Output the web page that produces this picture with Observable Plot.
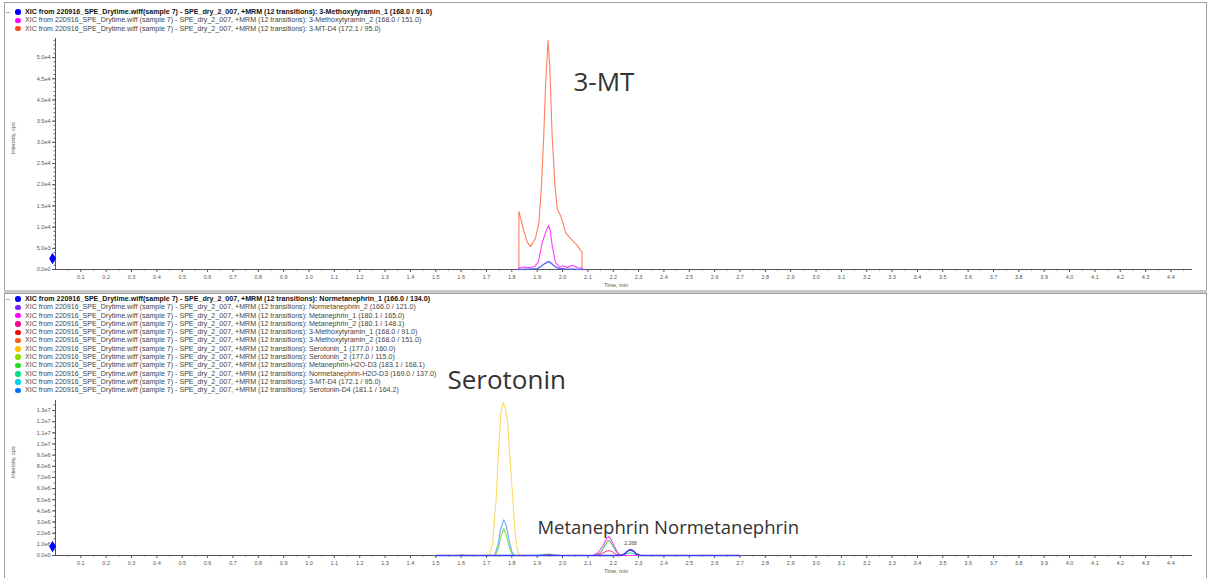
<!DOCTYPE html>
<html><head><meta charset="utf-8">
<script src="https://cdn.jsdelivr.net/npm/d3@7"></script>
<script src="https://cdn.jsdelivr.net/npm/@observablehq/plot@0.6"></script>
<style>
body{margin:0;width:1211px;height:578px;overflow:hidden;background:#fff;font-family:"Liberation Sans",Arial,sans-serif;}
#wrap{position:relative;width:1211px;height:578px;}
.panel{position:absolute;left:4px;width:1203px;border:1px solid #a0a0a0;box-sizing:border-box;}
.sep{position:absolute;left:4px;width:1203px;height:3px;background:#c8c8c8;}
.legend{position:absolute;left:0;font-size:7.1px;line-height:8.3px;color:#444;white-space:nowrap;z-index:2}
.legend .row{position:relative;padding-left:25px;height:8.3px}
.legend .dot{position:absolute;left:15px;top:1.4px;width:5.5px;height:5.5px;border-radius:50%}
.legend .row.bold{font-weight:bold;color:#111}
.legend .minus{position:absolute;left:6px;top:0px;color:#666}
.chart{position:absolute;left:0;z-index:1}
</style></head>
<body><div id="wrap">
<div class="panel" style="top:2px;height:289px"></div>
<div class="sep" style="top:290px"></div>
<div class="panel" style="top:293px;height:286px"></div>
<div class="legend" id="leg1" style="top:8px"></div>
<div class="legend" id="leg2" style="top:295px"></div>
<div class="chart" id="c1" style="top:30px"></div>
<div class="chart" id="c2" style="top:365px"></div>
</div>
<script>
// ---------- DATA ----------
const legendPrefixBold = "XIC from 220916_SPE_Drytime.wiff(sample 7) - SPE_dry_2_007, +MRM (12 transitions): ";
const legendPrefix = "XIC from 220916_SPE_Drytime.wiff (sample 7) - SPE_dry_2_007, +MRM (12 transitions): ";

const topNames = ["3-Methoxytyramin_1 (168.0 / 91.0)", "3-Methoxytyramin_2 (168.0 / 151.0)", "3-MT-D4 (172.1 / 95.0)"];
const bottomNames = ["Normetanephrin_1 (166.0 / 134.0)", "Normetanephrin_2 (166.0 / 121.0)", "Metanephrin_1 (180.1 / 165.0)",
  "Metanephrin_2 (180.1 / 148.1)", "3-Methoxytyramin_1 (168.0 / 91.0)", "3-Methoxytyramin_2 (168.0 / 151.0)",
  "Serotonin_1 (177.0 / 160.0)", "Serotonin_2 (177.0 / 115.0)", "Metanephrin-H2O-D3 (183.1 / 168.1)",
  "Normetanephrin-H2O-D3 (169.0 / 137.0)", "3-MT-D4 (172.1 / 95.0)", "Serotonin-D4 (181.1 / 164.2)"];

// top panel traces: [time min, intensity cps]
const top_3MT_1 = [[1.826,0],[1.86,100],[1.90,200],[1.915,700],[1.93,1400],[1.945,1900],[1.955,1500],[1.97,700],[1.985,250],[2.01,150],[2.04,100],[2.079,0]];
const top_3MT_2 = [[1.826,0],[1.826,300],[1.85,600],[1.87,400],[1.89,700],[1.905,1800],[1.92,6400],[1.935,9000],[1.945,10400],[1.952,9000],[1.959,5700],[1.972,1650],[1.99,500],[2.0,900],[2.02,500],[2.04,1000],[2.06,400],[2.079,300],[2.079,0]];
const top_3MT_D4 = [[1.828,0],[1.828,13700],[1.834,12300],[1.847,9200],[1.861,6400],[1.874,5400],[1.893,7300],[1.907,11100],[1.917,19800],[1.926,31600],[1.933,43400],[1.943,54000],[1.950,47400],[1.959,31600],[1.970,19800],[1.979,14400],[1.992,12700],[2.001,11100],[2.012,8700],[2.032,7300],[2.058,5700],[2.077,4000],[2.077,0]];

// bottom panel traces
const bot_NM_1 = [[1.5,0],[2.23,0],[2.245,150000],[2.258,420000],[2.268,500000],[2.28,380000],[2.292,120000],[2.31,0],[2.7,0]];
const bot_NM_2 = [[1.5,0],[2.235,0],[2.248,200000],[2.26,480000],[2.268,560000],[2.278,450000],[2.29,180000],[2.305,20000],[2.32,0],[2.7,0]];
const bot_MN_1 = [[1.5,0],[2.12,0],[2.14,250000],[2.16,900000],[2.175,1550000],[2.182,1700000],[2.19,1500000],[2.205,800000],[2.22,150000],[2.235,0],[2.7,0]];
const bot_MN_2 = [[1.5,0],[2.13,0],[2.155,150000],[2.172,380000],[2.182,450000],[2.195,350000],[2.21,120000],[2.23,0],[2.7,0]];
const bot_3MT_1 = [[1.5,0],[1.92,0],[1.945,60000],[1.97,0],[2.7,0]];
const bot_3MT_2 = [[1.5,0],[1.92,0],[1.945,40000],[1.97,0],[2.7,0]];
const bot_SER_1 = [[1.5,0],[1.70,0],[1.712,150000],[1.724,1000000],[1.738,5000000],[1.749,10000000],[1.757,12800000],[1.766,13700000],[1.774,13200000],[1.783,12100000],[1.792,9000000],[1.803,5400000],[1.813,2000000],[1.823,300000],[1.836,0],[2.7,0]];
const bot_SER_2 = [[1.5,0],[1.735,0],[1.748,700000],[1.758,1800000],[1.768,2400000],[1.776,2000000],[1.788,900000],[1.80,150000],[1.81,0],[2.7,0]];
const bot_MN_D3 = [[1.5,0],[1.59,0],[1.605,60000],[1.62,0],[2.13,0],[2.15,250000],[2.165,800000],[2.178,1300000],[2.185,1350000],[2.195,1000000],[2.21,400000],[2.225,50000],[2.24,0],[2.7,0]];
const bot_NMN_D3 = [[1.5,0],[2.235,0],[2.25,120000],[2.265,250000],[2.28,150000],[2.30,0],[2.7,0]];
const bot_3MT_D4 = [[1.5,0],[1.90,0],[1.925,80000],[1.945,120000],[1.965,70000],[1.99,0],[2.7,0]];
const bot_SER_D4 = [[1.5,0],[1.732,0],[1.745,900000],[1.755,2300000],[1.768,3200000],[1.778,2700000],[1.79,1300000],[1.80,350000],[1.811,0],[2.7,0]];

const topSeries = [top_3MT_1, top_3MT_2, top_3MT_D4];
const bottomSeries = [bot_NM_1, bot_NM_2, bot_MN_1, bot_MN_2, bot_3MT_1, bot_3MT_2, bot_SER_1, bot_SER_2, bot_MN_D3, bot_NMN_D3, bot_3MT_D4, bot_SER_D4];

const xTickValues = [0.1,0.2,0.3,0.4,0.5,0.6,0.7,0.8,0.9,1.0,1.1,1.2,1.3,1.4,1.5,1.6,1.7,1.8,1.9,2.0,2.1,2.2,2.3,2.4,2.5,2.6,2.7,2.8,2.9,3.0,3.1,3.2,3.3,3.4,3.5,3.6,3.7,3.8,3.9,4.0,4.1,4.2,4.3,4.4];
const topYTicks = [0,5000,10000,15000,20000,25000,30000,35000,40000,45000,50000];
const topYLabels = ["0.0e0","5.0e3","1.0e4","1.5e4","2.0e4","2.5e4","3.0e4","3.5e4","4.0e4","4.5e4","5.0e4"];
const botYTicks = [0,1e6,2e6,3e6,4e6,5e6,6e6,7e6,8e6,9e6,1e7,1.1e7,1.2e7,1.3e7];
const botYLabels = ["0.0e0","1.0e6","2.0e6","3.0e6","4.0e6","5.0e6","6.0e6","7.0e6","8.0e6","9.0e6","1.0e7","1.1e7","1.2e7","1.3e7"];

const topAnnotations = [{label:"3-MT", t:2.043, v:44100}];
const botAnnotations = [{label:"Serotonin", t:1.546, v:15.7e6}, {label:"Metanephrin Normetanephrin", t:1.901, v:2.42e6}];
const peakLabels = [{label:"2.268", t:2.268, v:560000}];
const topMarker = [{t:0, v:2600}];
const botMarker = [{t:0, v:800000}];

// ---------- STYLES ----------
const topLegendColors = ["#0000ff","#ff00ff","#ff4d1a"];
const topLineColors = ["#5a66ff","#ff3cff","#ff7f5f"];
const botLegendColors = ["#0000ff","#7a1fff","#ff00ff","#ff0090","#ff0000","#ff5a1a","#ffc000","#88e000","#22dd22","#00dd88","#00d0e8","#0070ff"];
const botLineColors = ["#3a3aee","#8a44ff","#ff3cff","#ff4aa8","#ff4040","#ff7f5f","#ffd966","#88dd55","#44cc55","#33ddaa","#44ccee","#66a8ff"];

// ---------- LEGENDS ----------
function buildLegend(el, names, colors) {
  let html = '<span class="minus">–</span>';
  names.forEach((n, i) => {
    html += `<div class="row${i===0?' bold':''}"><span class="dot" style="background:${colors[i]}"></span>${(i===0?legendPrefixBold:legendPrefix)+n}</div>`;
  });
  el.innerHTML = html;
}
buildLegend(document.getElementById("leg1"), topNames, topLegendColors);
buildLegend(document.getElementById("leg2"), bottomNames, botLegendColors);

// ---------- CHARTS ----------
const xMinor = d3.range(0.05, 4.46, 0.1);
function panel({height, mt, mb, yMax, yTicks, yLabels, yMinorStep, series, lineColors, annotations, annSize, marker, extra}) {
  const yMinor = d3.range(0, yMax, yMinorStep);
  const lines = [];
  for (let i = series.length - 1; i >= 0; i--) {
    lines.push(Plot.line(series[i], {x: d => d[0], y: d => d[1], stroke: lineColors[i], strokeWidth: i === 0 ? 1.4 : 1.1}));
  }
  return Plot.plot({
    width: 1211, height,
    marginLeft: 55, marginRight: 19, marginTop: mt, marginBottom: mb,
    style: {background: "transparent", fontFamily: "Liberation Sans, Arial, sans-serif", fontSize: "6px", color: "#555", overflow: "visible"},
    x: {domain: [0, 4.485], axis: null, label: null},
    y: {domain: [0, yMax], axis: null, label: null},
    marks: [
      Plot.axisX(xMinor, {tickSize: 1.5, tickFormat: () => "", stroke: "#666", label: null}),
      Plot.axisX(xTickValues, {tickSize: 3, tickPadding: 3, tickFormat: d => d.toFixed(1), fontSize: 5.5, fill: "#555", stroke: "#555", label: null}),
      Plot.axisY(yMinor, {tickSize: 1.5, tickFormat: () => "", stroke: "#666", label: null}),
      Plot.axisY(yTicks, {tickSize: 3, tickPadding: 2, tickFormat: d => yLabels[yTicks.indexOf(d)], fontSize: 5.5, fill: "#555", stroke: "#555", label: null}),
      Plot.ruleY([0], {stroke: "#555", strokeWidth: 1}),
      Plot.ruleX([0], {stroke: "#555", strokeWidth: 1}),
      ...lines,
      Plot.dot(marker, {x: "t", y: "v", symbol: "diamond", r: 3.5, fill: "#0000ff", dx: -3}),
      Plot.text(["Time, min"], {frameAnchor: "bottom", dy: 17, dx: -8, fontSize: 5.5, fill: "#555"}),
      Plot.text(["Intensity, cps"], {frameAnchor: "left", dx: -42, rotate: -90, fontSize: 5.5, fill: "#555"}),
      Plot.text(annotations, {x: "t", y: "v", text: "label", textAnchor: "start", fontSize: d => d.size || annSize, fontFamily: "Open Sans, Noto Sans, sans-serif", fill: "#333"}),
      ...(extra || [])
    ]
  });
}

document.getElementById("c1").append(panel({
  height: 260, mt: 8, mb: 21, yMax: 54500, yTicks: topYTicks, yLabels: topYLabels, yMinorStep: 1000,
  series: topSeries, lineColors: topLineColors, annotations: topAnnotations, annSize: 26, marker: topMarker
}));

document.getElementById("c2").append(panel({
  height: 213, mt: 35, mb: 23, yMax: 13.9e6, yTicks: botYTicks, yLabels: botYLabels, yMinorStep: 500000,
  series: bottomSeries, lineColors: botLineColors, annotations: botAnnotations.map((a, i) => ({...a, size: i === 0 ? 26 : 18.5})), annSize: 18.5, marker: botMarker,
  extra: [Plot.text(peakLabels, {x: "t", y: "v", text: "label", dy: -6, fontSize: 5, fill: "#444"})]
}));
</script>
</body></html>
